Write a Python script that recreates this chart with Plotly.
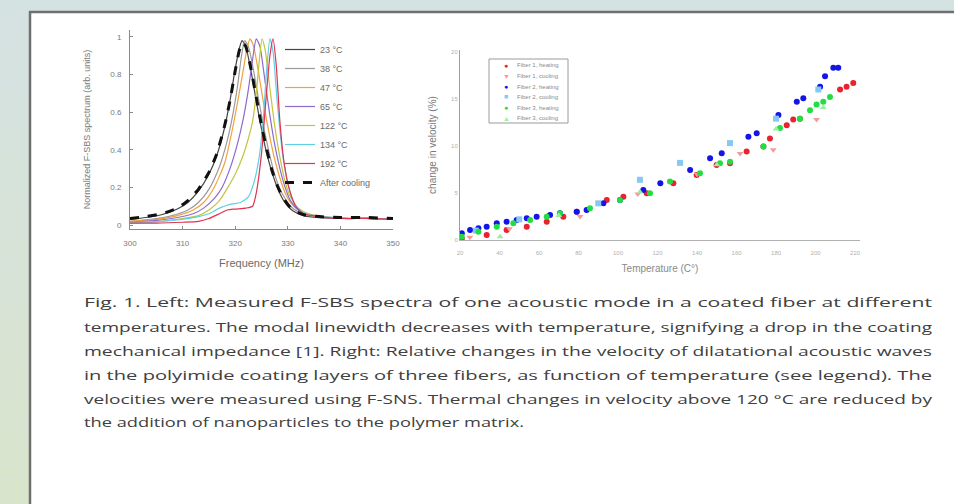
import plotly.graph_objects as go

W, H = 954, 504

# ---------------- Left panel: F-SBS spectra at several temperatures ----------------
spec_labels = ["23 °C", "38 °C", "47 °C", "65 °C", "122 °C", "134 °C", "192 °C"]
spec_colors = ["#444444", "#9a9a9a", "#f2a23a", "#8a6ad0", "#c4c43c", "#5fd0e6", "#e2324e"]

f_23 = [300, 303, 306, 309, 311, 313, 315, 316.5, 318, 319, 320, 320.8, 321.3, 322, 323, 324, 325, 326, 327, 328, 329, 330, 331, 333, 336, 340, 345, 350]
a_23 = [0.03, 0.04, 0.055, 0.085, 0.12, 0.18, 0.27, 0.37, 0.52, 0.66, 0.83, 0.94, 0.98, 0.95, 0.82, 0.66, 0.51, 0.38, 0.28, 0.20, 0.14, 0.10, 0.075, 0.05, 0.04, 0.035, 0.035, 0.03]

f_38 = [300, 304, 308, 311, 313, 315, 317, 318.5, 319.5, 320.5, 321.2, 321.8, 322.5, 323.5, 324.5, 325.5, 326.5, 327.5, 328.5, 329.5, 330.5, 332, 334, 337, 341, 345, 350]
a_38 = [0.02, 0.03, 0.05, 0.08, 0.12, 0.19, 0.31, 0.45, 0.58, 0.75, 0.90, 0.98, 0.95, 0.82, 0.66, 0.51, 0.38, 0.27, 0.19, 0.14, 0.10, 0.07, 0.05, 0.04, 0.035, 0.035, 0.03]

f_47 = [300, 305, 309, 312, 314, 316, 318, 319.4, 320.5, 321.5, 322.2, 322.8, 323.5, 324.5, 325.5, 326.5, 327.5, 328.5, 329.5, 330.5, 332, 334, 337, 341, 345, 350]
a_47 = [0.02, 0.03, 0.05, 0.08, 0.12, 0.20, 0.33, 0.50, 0.66, 0.82, 0.93, 0.99, 0.95, 0.80, 0.63, 0.48, 0.35, 0.25, 0.17, 0.12, 0.08, 0.055, 0.04, 0.035, 0.035, 0.03]

f_65 = [300, 305, 309, 312, 314, 316, 317.5, 319, 320.5, 321.5, 322.5, 323.3, 324, 324.7, 325.5, 326.5, 327.5, 328.5, 329.5, 330.5, 332, 334, 337, 341, 345, 350]
a_65 = [0.015, 0.025, 0.04, 0.06, 0.09, 0.14, 0.20, 0.30, 0.44, 0.56, 0.72, 0.88, 0.99, 0.95, 0.80, 0.60, 0.43, 0.30, 0.20, 0.13, 0.08, 0.055, 0.04, 0.035, 0.035, 0.03]

f_122 = [300, 306, 310, 313, 315, 317, 318.6, 320, 321.5, 322.5, 323.3, 324, 324.6, 325.1, 325.7, 326.5, 327.5, 328.5, 329.5, 330.5, 332, 334, 337, 341, 345, 350]
a_122 = [0.015, 0.02, 0.035, 0.05, 0.08, 0.13, 0.20, 0.27, 0.37, 0.46, 0.55, 0.70, 0.88, 0.99, 0.93, 0.75, 0.53, 0.36, 0.23, 0.15, 0.09, 0.06, 0.045, 0.035, 0.035, 0.03]

f_134 = [300, 306, 310, 313, 315, 317, 319, 321, 322.5, 323.5, 324.5, 325.3, 326, 326.6, 327.2, 328, 329, 330, 331, 332, 334, 337, 341, 345, 350]
a_134 = [0.01, 0.02, 0.03, 0.045, 0.06, 0.09, 0.11, 0.12, 0.15, 0.22, 0.35, 0.55, 0.83, 0.99, 0.92, 0.65, 0.38, 0.22, 0.13, 0.085, 0.055, 0.045, 0.035, 0.035, 0.03]

f_192 = [300, 305, 310, 313, 315, 317, 318.5, 320, 322, 323.3, 324, 325, 325.8, 326.6, 327.2, 327.8, 328.5, 329.3, 330.4, 331.5, 333, 336, 340, 345, 350]
a_192 = [0.01, 0.01, 0.015, 0.02, 0.035, 0.06, 0.08, 0.085, 0.09, 0.10, 0.17, 0.38, 0.65, 0.90, 0.99, 0.85, 0.55, 0.33, 0.18, 0.10, 0.06, 0.045, 0.035, 0.035, 0.03]

f_cool = [300, 303, 306, 309, 311, 313, 315, 316.5, 318, 319, 320, 320.8, 321.4, 322, 323, 324, 325, 326, 327, 328, 329, 330, 331, 333, 336, 340, 345, 350]
a_cool = [0.035, 0.045, 0.06, 0.09, 0.13, 0.19, 0.28, 0.38, 0.53, 0.66, 0.82, 0.93, 0.97, 0.95, 0.83, 0.68, 0.53, 0.40, 0.29, 0.21, 0.15, 0.11, 0.08, 0.055, 0.045, 0.04, 0.04, 0.035]

spec_freqs = [f_23, f_38, f_47, f_65, f_122, f_134, f_192]
spec_amps = [a_23, a_38, a_47, a_65, a_122, a_134, a_192]

# ---------------- Right panel: relative velocity change vs temperature ----------------
vel_labels = ["Fiber 1, heating", "Fiber 1, cooling", "Fiber 2, heating",
              "Fiber 2, cooling", "Fiber 3, heating", "Fiber 3, cooling"]
vel_colors = ["#e8222e", "#f59a9a", "#1414e6", "#86c8f5", "#22dd44", "#9aeea0"]
vel_symbols = ["circle", "triangle-down", "circle", "square", "circle", "triangle-up"]
vel_glyphs = ["●", "▼", "●", "■", "●", "▲"]

t_f1h = [20.9, 33.5, 43.6, 53.8, 63.9, 72.3, 79.1, 94.3, 102.7, 114.5, 128.0, 139.8, 149.9, 156.7, 165.1, 173.6, 176.9, 185.4, 188.7, 192.1, 212.4, 215.7, 219.1]
v_f1h = [0.1, 0.53, 1.06, 1.42, 1.95, 2.48, 3.01, 4.26, 4.61, 4.96, 6.03, 6.91, 7.98, 8.16, 9.4, 9.93, 10.8, 12.2, 12.8, 12.9, 16.0, 16.3, 16.7]

t_f1c = [25, 45, 80.8, 110, 140, 161.8, 178.6, 200.5]
v_f1c = [0.3, 1.2, 2.5, 4.9, 7.0, 9.2, 9.6, 12.8]

t_f2h = [20.9, 25.1, 29.3, 33.5, 38.6, 43.6, 48.7, 53.8, 58.8, 65.6, 70.6, 79.1, 84.1, 92.6, 101.0, 112.8, 121.4, 136.5, 146.6, 152.5, 166.0, 170.2, 181.2, 190.5, 193.8, 202.3, 204.8, 209.0, 211.5]
v_f2h = [0.71, 1.06, 1.24, 1.42, 1.77, 1.95, 2.13, 2.3, 2.48, 2.66, 2.84, 3.01, 3.19, 3.9, 4.26, 5.32, 6.03, 7.45, 8.69, 9.22, 10.99, 11.35, 13.3, 14.7, 15.07, 16.3, 17.4, 18.3, 18.3]

t_f2c = [28, 50, 90, 111.1, 131.4, 156.7, 180, 201.4]
v_f2c = [1.0, 2.2, 3.9, 6.4, 8.2, 10.3, 12.9, 16.0]

t_f3h = [20.9, 29.3, 38.6, 47.0, 55.5, 63.9, 70.6, 85.8, 101.0, 116.2, 126.3, 141.5, 151.6, 156.7, 173.6, 182.0, 192.1, 197.2, 200.5, 203.9, 207.3]
v_f3h = [0.35, 0.89, 1.42, 1.77, 2.13, 2.48, 2.84, 3.37, 4.26, 4.96, 6.21, 7.09, 8.16, 8.33, 9.93, 11.9, 12.9, 13.8, 14.4, 14.7, 15.2]

t_f3c = [40.3, 70, 111.1, 150, 180, 203.9]
v_f3c = [0.35, 2.6, 5.1, 8.0, 11.8, 14.1]

vel_temps = [t_f1h, t_f1c, t_f2h, t_f2c, t_f3h, t_f3c]
vel_vals = [v_f1h, v_f1c, v_f2h, v_f2c, v_f3h, v_f3c]

caption_lines = [
    "Fig. 1. Left: Measured F-SBS spectra of one acoustic mode in a coated fiber at different",
    "temperatures. The modal linewidth decreases with temperature, signifying a drop in the coating",
    "mechanical impedance [1]. Right: Relative changes in the velocity of dilatational acoustic waves",
    "in the polyimide coating layers of three fibers, as function of temperature (see legend). The",
    "velocities were measured using F-SNS. Thermal changes in velocity above 120 °C are reduced by",
    "the addition of nanoparticles to the polymer matrix.",
]


def px(x):
    return x / W


def py(y):
    return 1 - y / H


NARROW = "Liberation Sans Narrow, Liberation Sans, Arial, sans-serif"

fig = go.Figure()

for name, f, a, c in zip(spec_labels, spec_freqs, spec_amps, spec_colors):
    fig.add_trace(go.Scatter(
        x=f, y=a, mode="lines", name=name, legend="legend",
        line=dict(color=c, width=1.2, shape="spline", smoothing=0.6),
        xaxis="x", yaxis="y"))
fig.add_trace(go.Scatter(
    x=f_cool, y=a_cool, mode="lines", name="After cooling", legend="legend",
    line=dict(color="#111111", width=3, dash="dash", shape="spline", smoothing=0.6),
    xaxis="x", yaxis="y"))

for name, t, v, c, s in zip(vel_labels, vel_temps, vel_vals, vel_colors, vel_symbols):
    fig.add_trace(go.Scatter(
        x=t, y=v, mode="markers", name=name, showlegend=False,
        marker=dict(color=c, size=6, symbol=s, line=dict(width=0)),
        xaxis="x2", yaxis="y2"))

shapes = []
# page background: soft vertical gradient on the left margin
top_rgb = (213, 226, 226)
bot_rgb = (217, 228, 204)
n_bands = 40
for i in range(n_bands):
    r = i / (n_bands - 1)
    col = tuple(round(top_rgb[k] + (bot_rgb[k] - top_rgb[k]) * r) for k in range(3))
    shapes.append(dict(type="rect", xref="paper", yref="paper", layer="below",
                       x0=0, x1=px(30), y0=py(H * (i + 1) / n_bands), y1=py(H * i / n_bands),
                       fillcolor="rgb(%d,%d,%d)" % col, line=dict(width=0)))
# white content panel with a dark frame on top and left
shapes.append(dict(type="rect", xref="paper", yref="paper", layer="below",
                   x0=px(30), x1=1.0, y0=0, y1=py(12),
                   fillcolor="white", line=dict(width=0)))
shapes.append(dict(type="line", xref="paper", yref="paper", layer="above",
                   x0=px(29), x1=1.0, y0=py(12), y1=py(12),
                   line=dict(color="#6f6f6f", width=2.5)))
shapes.append(dict(type="line", xref="paper", yref="paper", layer="above",
                   x0=px(30), x1=px(30), y0=0, y1=py(11),
                   line=dict(color="#6f6f6f", width=2.5)))
# box around the velocity legend
shapes.append(dict(type="rect", xref="paper", yref="paper", layer="above",
                   x0=px(489), x1=px(568), y0=py(123), y1=py(59),
                   fillcolor="rgba(255,255,255,0)", line=dict(color="#9a9a9a", width=1)))

annotations = []
row_y = [65, 76, 86.5, 97, 107.5, 118]
for lab, c, g, yy in zip(vel_labels, vel_colors, vel_glyphs, row_y):
    annotations.append(dict(xref="paper", yref="paper", x=px(506), y=py(yy),
                            text=g, showarrow=False, xanchor="center", yanchor="middle",
                            font=dict(size=7, color=c)))
    annotations.append(dict(xref="paper", yref="paper", x=px(515), y=py(yy),
                            text=lab, showarrow=False, xanchor="left", yanchor="middle",
                            font=dict(size=6, color="#8a8a8a", family=NARROW)))

caption_y = [302, 326.5, 350.5, 374.5, 398.5, 422]
for line, yy in zip(caption_lines, caption_y):
    annotations.append(dict(xref="paper", yref="paper", x=px(82), y=py(yy),
                            text=line, showarrow=False, xanchor="left", yanchor="middle",
                            align="left",
                            font=dict(size=13, color="#404040", family="Open Sans, sans-serif")))

fig.update_layout(
    width=W, height=H,
    margin=dict(l=0, r=0, t=0, b=0, autoexpand=False),
    paper_bgcolor="rgb(213,226,226)",
    plot_bgcolor="rgba(0,0,0,0)",
    shapes=shapes,
    annotations=annotations,
    legend=dict(x=px(280), y=py(35), xanchor="left", yanchor="top",
                bgcolor="rgba(255,255,255,0)", borderwidth=0,
                font=dict(size=9, color="#6a6a6a", family=NARROW),
                itemwidth=30, tracegroupgap=0),
    xaxis=dict(domain=[px(130), px(393)], range=[300, 350], anchor="y", automargin=False,
               tickvals=[300, 310, 320, 330, 340, 350],
               showgrid=False, zeroline=False, showline=True, linecolor="#8a8a8a", linewidth=1,
               ticks="inside", ticklen=3, tickcolor="#8a8a8a", ticklabelstandoff=6,
               tickfont=dict(size=8, color="#7a7a7a", family=NARROW),
               title=dict(text="Frequency (MHz)", standoff=12,
                          font=dict(size=11, color="#6a6a6a", family=NARROW))),
    yaxis=dict(domain=[py(229), py(30)], range=[-0.021, 1.037], anchor="x", automargin=False,
               tickvals=[0, 0.2, 0.4, 0.6, 0.8, 1],
               showgrid=False, zeroline=False, showline=True, linecolor="#8a8a8a", linewidth=1,
               ticks="inside", ticklen=3, tickcolor="#8a8a8a", ticklabelstandoff=6,
               tickfont=dict(size=8, color="#7a7a7a", family=NARROW),
               title=dict(text="Normalized F-SBS spectrum (arb. units)", standoff=18,
                          font=dict(size=9, color="#7a7a7a", family=NARROW))),
    xaxis2=dict(domain=[px(460), px(860)], range=[20, 222.5], anchor="y2", automargin=False,
                tickvals=[20, 40, 60, 80, 100, 120, 140, 160, 180, 200, 220],
                showgrid=False, zeroline=False, showline=True, linecolor="#b0b0b0", linewidth=1,
                ticks="", ticklabelstandoff=7,
                tickfont=dict(size=6, color="#b0b0b0", family=NARROW),
                title=dict(text="Temperature (C°)", standoff=9,
                           font=dict(size=10, color="#8a8a8a", family=NARROW))),
    yaxis2=dict(domain=[py(240), py(50)], range=[0, 20.2], anchor="x2", automargin=False,
                tickvals=[0, 5, 10, 15, 20],
                showgrid=False, zeroline=False, showline=True, linecolor="#a0a0a0", linewidth=1,
                ticks="", tickfont=dict(size=6, color="#b0b0b0", family=NARROW),
                title=dict(text="change in velocity (%)", standoff=12,
                           font=dict(size=10, color="#7a7a7a", family=NARROW))),
)

# caption lines stretched to the column width (justified block)
post = """
var gd = document.getElementById('{plot_id}');
var widths = [848, 848, 848, 848, 848, 440];
var texts = Array.prototype.slice.call(gd.querySelectorAll('text.annotation-text'));
var caps = texts.filter(function(t){ return t.textContent.length > 40; });
caps.forEach(function(t, i){
  t.setAttribute('textLength', widths[i]);
  t.setAttribute('lengthAdjust', 'spacingAndGlyphs');
});
"""

fig.write_html("out.html", post_script=post)
